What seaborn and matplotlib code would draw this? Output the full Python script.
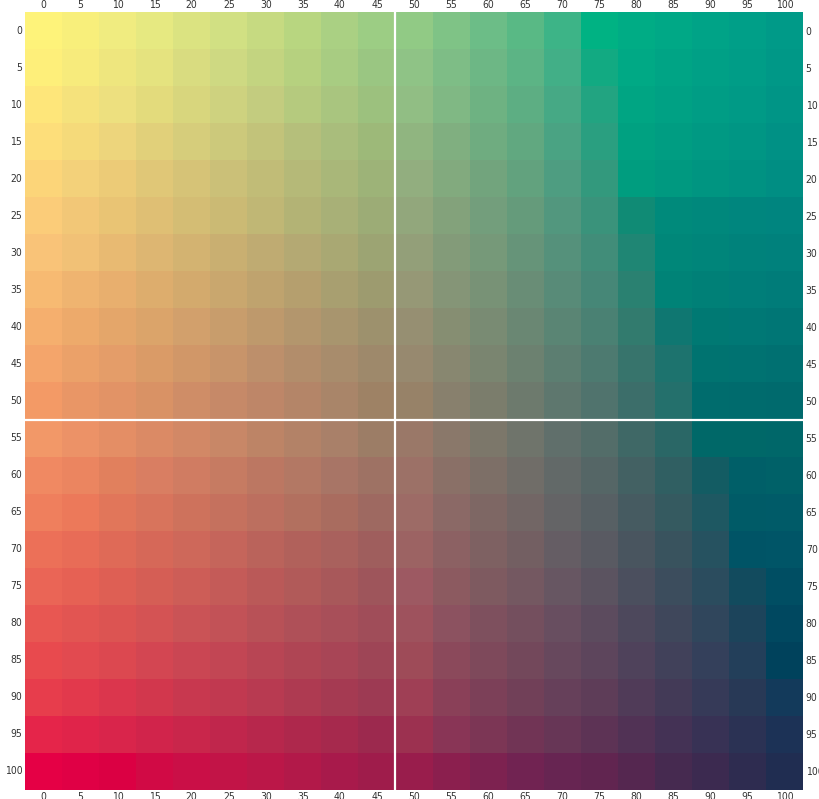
import numpy as np
import matplotlib
matplotlib.use("Agg")
import matplotlib.pyplot as plt
from matplotlib.colors import ListedColormap
from matplotlib import font_manager
import seaborn as sns

# tick labels (both axes run 0..100 in steps of 5)
x_labels = [0, 5, 10, 15, 20, 25, 30, 35, 40, 45, 50, 55, 60, 65, 70, 75, 80, 85, 90, 95, 100]
y_labels = [0, 5, 10, 15, 20, 25, 30, 35, 40, 45, 50, 55, 60, 65, 70, 75, 80, 85, 90, 95, 100]

# cell colours, one string per row (left -> right)
grid_rows = [
    "FEF37A F8EF7B F0EC80 E6E981 DBE381 D1E083 C6DA81 B8D680 AAD083 9CCD84 91CA85 7FC386 6CBD87 59B985 3DB487 00B283 00AC85 00A886 00A387 009F88 009A88",
    "FEEF7A F7EB7C EEE67E E5E37F D9DC80 CED982 C3D480 B6D17F A8CC82 9AC682 8FC386 7EBD86 6DB785 5CB485 42AF87 12AA82 00A985 00A485 00A086 009D87 009887",
    "FEE67A F5E27C EDE07F E3DB7C D8D67D CED27F C3CC7F B5CA7E A9C57F 9CC17E 91BE84 80B884 6EB282 5DAE83 46A985 22A481 00A583 00A184 009D85 009A86 009586",
    "FDDE7A F5DA7A EDD57C E1D07A D6CD7B CCC97B C2C37A B5BF7B A9BD7C 9DB979 90B580 80AF80 6FAC80 61A880 4AA383 2A9F80 00A181 009D82 009983 009684 009185",
    "FCD579 F3D17A ECCB77 E0C777 D6C377 CBC078 C1BC77 B5B978 A9B779 9DB378 92AE7F 82AA7E 72A47D 62A27E 4E9D81 33997D 009D7F 009980 009581 009282 008E83",
    "FBCC79 F2C777 E9C474 DFBF74 D4BD74 CBBA74 C0B775 B3B375 A8B077 9CAC76 92A77C 83A27B 739E7C 659B7B 52977E 3A937B 108B75 008A7B 00887C 00867E 00857F",
    "F9C378 F1C176 E8BA72 DDB672 D3B371 C9AF71 BFAB72 B4A973 A9A873 9CA473 939F79 839B79 769979 669479 55917B 418D79 1F8674 008779 00857A 00827B 00817C",
    "F7BA72 EFB470 E8AF6E DDAD6D D3AA6D C9A76E BFA36E B59F6E A89F70 9D9B6F 969876 859577 789276 698D76 588B78 468777 2A8171 008377 008077 007E79 007C79",
    "F5AF6E EDAA6B E4A66A DBA46A D2A06C C89D6C BE996C B3966D A8956E 9D916D 968F72 868E72 798B73 6A8773 5A8574 4A8173 327B6E 0F7771 007973 007875 007675",
    "F4A56B EBA169 E49D69 DA9B67 D19768 C8946A BD8F6B B28D6B A88C6C 9E896B 97896F 888770 7A8570 6C8170 5C7E71 4D7A70 37746C 1D736E 007370 007271 007071",
    "F39A66 E99666 E29366 D99265 CF8D67 C68968 BE8668 B48568 A98569 9E8265 978268 88806D 7B7D6C 6D7A6D 5E776E 50736D 3C6E6A 24706C 006C6D 006B6D 006A6D",
    "F29868 EC9267 E48E65 DB8A65 D28866 C88767 BD8466 B38267 A98069 9C7D66 9A7868 8A786A 7C776A 6F746B 606F6B 536D69 3F6866 2A6766 006868 006868 006769",
    "F08962 EB8560 E1805D D97E62 D07C62 C67B62 BC7762 B37864 A87566 9E7264 9C7167 8A7067 7D6F67 706D68 626968 556666 436163 305F62 135C63 005F68 006168",
    "EF7F5D EC795A E1765A D8745C CE725C C5715E BC6F5F B2705F A96C5F 9E6961 9D6B66 8B6966 7E6764 726665 646466 576064 465B61 355A60 1E5862 005B67 005B68",
    "EC7058 E86C57 DF6A57 D66858 CE685A C5655B BA635B B1615B A9615D 9F5E5D 9C6363 8C6163 7E6162 735F62 655D64 595A62 49555F 39535E 265260 005466 005567",
    "EA6556 E66154 DE5F54 D55E55 CD5D57 C45B58 BA5958 B15A59 A8585A 9E555B 9D5962 8C5A60 7E5A60 745861 675662 5B5360 4B4F5E 3C4D5D 2B4C5E 124B5E 004E63",
    "E85752 E25552 DC5452 D45354 CA5356 C25257 B85157 AF5058 A84F59 A04D59 9E525D 8C5260 7E505E 744F5E 684E60 5C4B5E 4D485C 3F475B 30465C 1C445B 004860",
    "E84A4E E24A50 DC4850 D34652 CA4653 C24654 B84554 AF4554 A84556 9E4556 9E4B58 8B495B 7E495B 73485B 67485D 5D455C 4F425B 41415A 34405B 233F5A 00425C",
    "E73D4C E2394C DB364D D2374D C8384F C13950 B83A51 AE3A51 A53A52 9D3A53 9F3F55 8A4058 7C4058 714058 66405A 5E3D58 503B58 433A57 363A58 283956 133A5B",
    "E5254A E0244A D9254B D1244B C9264B C0264C B7274C AE284C A6294D 9C294E 9C3150 893556 7C3655 713455 673656 5D3355 513255 443255 383255 2B3254 1C3256",
    "E50045 E00045 DB0043 D10A45 CA0F47 C21447 BB1748 B21949 A81A4B 9F1C4B 991D4C 8B1F4E 7D2250 712352 672552 612550 552750 462A50 3C2A50 2E2C50 202D51",
]

colors = ["#" + c for row in grid_rows for c in row.split()]
n_rows, n_cols = len(y_labels), len(x_labels)
cell_index = np.arange(n_rows * n_cols).reshape(n_rows, n_cols)
cmap = ListedColormap(colors)

sns.set_style("white")
# narrow face if one is around, otherwise plain DejaVu
installed = {f.name for f in font_manager.fontManager.ttflist}
narrow = [n for n in ["Liberation Sans Narrow", "DejaVu Sans Condensed"] if n in installed]
plt.rcParams["font.family"] = narrow + ["DejaVu Sans"]
plt.rcParams["font.stretch"] = "condensed"

fig = plt.figure(figsize=(8.2, 7.99), dpi=100)
ax = fig.add_axes([25 / 820, 1 - 790 / 799, 778 / 820, 778 / 799])

sns.heatmap(cell_index, cmap=cmap, vmin=-0.5, vmax=len(colors) - 0.5,
            cbar=False, xticklabels=x_labels, yticklabels=y_labels,
            linewidths=0, ax=ax)

# white guide lines through the middle
ax.axvline(10, color="white", lw=1.6)
ax.axhline(11, color="white", lw=1.6)

ax.tick_params(axis="both", length=0, labelsize=7.5, colors="#333333",
               top=True, labeltop=True, bottom=True, labelbottom=True,
               left=True, labelleft=True, right=True, labelright=True)
ax.tick_params(axis="x", pad=1.5)
ax.tick_params(axis="y", pad=2)
plt.setp(ax.get_yticklabels(), rotation=0)
plt.setp(ax.get_xticklabels(), rotation=0)
for s in ax.spines.values():
    s.set_visible(False)

fig.savefig("out.png", dpi=100)
plt.close(fig)
